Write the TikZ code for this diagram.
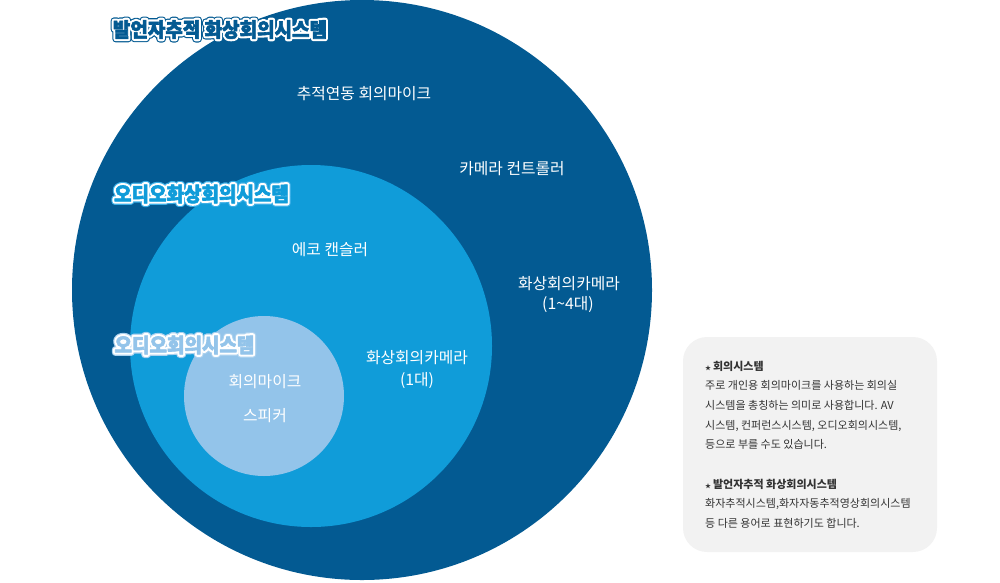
\documentclass[tikz,border=0pt]{standalone}
\usepackage{fontspec}
\setmainfont{Noto Sans CJK KR}
\definecolor{c1}{HTML}{035A92}
\definecolor{c2}{HTML}{109CD9}
\definecolor{c3}{HTML}{93C4EA}
\definecolor{c2halo}{HTML}{3AAEE6}
\definecolor{c3halo}{HTML}{A9D0EE}
\definecolor{boxgray}{HTML}{F2F2F2}
\definecolor{notegray}{HTML}{333333}
\newcommand{\dbltitle}[3]{\scalebox{0.95}[1]{%
\makebox[0pt][l]{\color{#2}\special{pdf:literal 2 Tr 7.2 w 1 j}#3\special{pdf:literal 0 Tr}}%
\makebox[0pt][l]{\color{#1}\special{pdf:literal 2 Tr 4.8 w 1 j 1 1 1 RG}#3\special{pdf:literal 0 Tr}}%
{\color{#1}\special{pdf:literal 2 Tr 0.6 w 1 j}#3\special{pdf:literal 0 Tr 0.4 w 0 j}}}}
\begin{document}
\begin{tikzpicture}[x=1pt,y=-1pt,
  lbl/.style={text=white,font=\fontsize{15.8}{18}\selectfont,inner sep=0pt},
  notetxt/.style={text=notegray,font=\fontsize{11}{13}\selectfont,anchor=base west,inner sep=0pt},
  ttlnode/.style={inner sep=0pt,font=\fontsize{20}{22}\selectfont\bfseries},
  disc/.style={circle,inner sep=0pt,draw=none}]
\useasboundingbox (0,0) rectangle (1000,582);
\node[disc,fill=c1,minimum size=580pt] (outer) at (362,290) {};
\node[disc,fill=c2,minimum size=362pt] (mid) at (311,346) {};
\node[disc,fill=c3,minimum size=160pt] (inner) at (264,396) {};
\node[fill=boxgray,rounded corners=24pt,minimum width=254pt,minimum height=215pt,inner sep=0pt] (notebox) at (810,444.5) {};
% titles
\node[ttlnode] (t1) at (220,29.5) {\dbltitle{c1}{c1}{발언자추적 화상회의시스템}};
\node[ttlnode] (t2) at (201.5,194) {\dbltitle{c2}{c2halo}{오디오화상회의시스템}};
\node[ttlnode] (t3) at (184.5,345) {\dbltitle{c3}{c3halo}{오디오회의시스템}};
% labels
\node[lbl] (l1) at (364,94) {추적연동 회의마이크};
\node[lbl] (l2) at (512,169) {카메라 컨트롤러};
\node[lbl] (l3) at (330,250) {에코 캔슬러};
\node[lbl] (l4) at (569,284) {화상회의카메라};
\node[lbl] (l4b) at (568,305) {(1\textasciitilde 4대)};
\node[lbl] (l5) at (417,358) {화상회의카메라};
\node[lbl] (l5b) at (417,381) {(1대)};
\node[lbl] (l6) at (265,382) {회의마이크};
\node[lbl] (l7) at (265,416) {스피커};
% note
\node[notetxt] (n1) at (705,370) {{\fontsize{6}{6}\selectfont ★}\,\textbf{회의시스템}};
\node[notetxt] (n2) at (705,389.7) {주로 개인용 회의마이크를 사용하는 회의실};
\node[notetxt] (n3) at (705,409.4) {시스템을 총칭하는 의미로 사용합니다. AV};
\node[notetxt] (n4) at (705,429.1) {시스템, 컨퍼런스시스템, 오디오회의시스템,};
\node[notetxt] (n5) at (705,448.8) {등으로 부를 수도 있습니다.};
\node[notetxt] (n6) at (705,488.2) {{\fontsize{6}{6}\selectfont ★}\,\textbf{발언자추적 화상회의시스템}};
\node[notetxt] (n7) at (705,507.9) {화자추적시스템,화자자동추적영상회의시스템};
\node[notetxt] (n8) at (705,527.6) {등 다른 용어로 표현하기도 합니다.};
\end{tikzpicture}
\end{document}
